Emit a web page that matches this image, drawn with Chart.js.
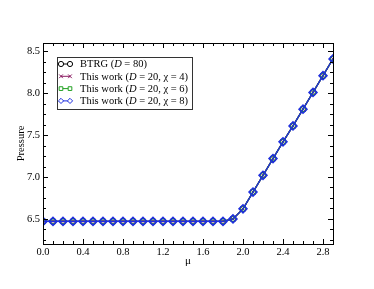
<!DOCTYPE html>
<html>
<head>
<meta charset="utf-8">
<script src="https://cdn.jsdelivr.net/npm/chart.js@4.4.1/dist/chart.umd.min.js"></script>
<style>
  html, body { margin: 0; padding: 0; background: #fff; }
  #wrap { width: 374px; height: 289px; }
</style>
</head>
<body>
<div id="wrap"><canvas id="pressureChart" width="374" height="289"></canvas></div>
<script>
// chemical potential mu
const mu = [0.0, 0.1, 0.2, 0.3, 0.4, 0.5, 0.6, 0.7, 0.8, 0.9, 1.0, 1.1, 1.2, 1.3, 1.4,
  1.5, 1.6, 1.7, 1.8, 1.9, 2.0, 2.1, 2.2, 2.3, 2.4, 2.5, 2.6, 2.7, 2.8, 2.9];

// pressure
const btrg = [6.47, 6.47, 6.47, 6.47, 6.47, 6.47, 6.47, 6.47, 6.47, 6.47, 6.47, 6.47, 6.47, 6.47, 6.47,
  6.47, 6.47, 6.47, 6.47, 6.50, 6.62, 6.82, 7.02, 7.22, 7.42, 7.61, 7.81, 8.01, 8.21, 8.41];
const chi4 = [6.47, 6.47, 6.47, 6.47, 6.47, 6.47, 6.47, 6.47, 6.47, 6.47, 6.47, 6.47, 6.47, 6.47, 6.47,
  6.47, 6.47, 6.47, 6.47, 6.50, 6.62, 6.82, 7.02, 7.22, 7.42, 7.61, 7.81, 8.01, 8.21, 8.41];
const chi6 = [6.47, 6.47, 6.47, 6.47, 6.47, 6.47, 6.47, 6.47, 6.47, 6.47, 6.47, 6.47, 6.47, 6.47, 6.47,
  6.47, 6.47, 6.47, 6.47, 6.50, 6.62, 6.82, 7.02, 7.22, 7.42, 7.61, 7.81, 8.01, 8.21, 8.41];
const chi8 = [6.47, 6.47, 6.47, 6.47, 6.47, 6.47, 6.47, 6.47, 6.47, 6.47, 6.47, 6.47, 6.47, 6.47, 6.47,
  6.47, 6.47, 6.47, 6.47, 6.50, 6.62, 6.82, 7.02, 7.22, 7.42, 7.61, 7.81, 8.01, 8.21, 8.41];

const xTicks = [0.0, 0.4, 0.8, 1.2, 1.6, 2.0, 2.4, 2.8];
const yTicks = [6.5, 7.0, 7.5, 8.0, 8.5];

// legend text pieces: [text, italic?]
const legendLabels = [
  [['BTRG (', false], ['D', true], [' = 80)', false]],
  [['This work (', false], ['D', true], [' = 20, \u03c7 = 4)', false]],
  [['This work (', false], ['D', true], [' = 20, \u03c7 = 6)', false]],
  [['This work (', false], ['D', true], [' = 20, \u03c7 = 8)', false]]
];

const serif = "'Liberation Serif', 'DejaVu Serif', serif";

function pts(ys) {
  return mu.map((m, i) => ({ x: m, y: ys[i] }));
}

const series = [
  { data: btrg, color: '#000000', style: 'circle', radius: 3, bw: 1, order: 3 },
  { data: chi4, color: '#8b1c62', style: 'crossRot', radius: 2.8, bw: 1, order: 2 },
  { data: chi6, color: '#22a022', style: 'rect', radius: 3.2, bw: 1, order: 1 },
  { data: chi8, color: '#1f2fe0', style: 'rectRot', radius: 4, bw: 1.5, order: 0 }
];

// inward ticks on all four sides, plus frame and legend
const framePlugin = {
  id: 'frame',
  afterDraw(chart) {
    const ctx = chart.ctx;
    const a = chart.chartArea;
    const xs = chart.scales.x, ys = chart.scales.y;
    ctx.save();
    ctx.strokeStyle = '#000';
    ctx.lineWidth = 1;
    ctx.strokeRect(a.left + 0.5, a.top + 0.5, a.right - a.left, a.bottom - a.top);
    ctx.beginPath();
    for (let k = 0; k <= 29; k++) {
      const v = k / 10;
      const len = (k % 4 === 0) ? 5 : 3;
      const px = Math.round(xs.getPixelForValue(v)) + 0.5;
      ctx.moveTo(px, a.bottom); ctx.lineTo(px, a.bottom - len);
      ctx.moveTo(px, a.top); ctx.lineTo(px, a.top + len);
    }
    for (let k = 0; k <= 19; k++) {
      const v = 6.25 + k * 0.125;
      if (v > 8.6) break;
      const len = (k % 4 === 2) ? 5 : 3;
      const py = Math.round(ys.getPixelForValue(v)) + 0.5;
      ctx.moveTo(a.left, py); ctx.lineTo(a.left + len, py);
      ctx.moveTo(a.right, py); ctx.lineTo(a.right - len, py);
    }
    ctx.stroke();

    // legend box
    const bx = a.left + 14, by = a.top + 14, bw = 135, bh = 52;
    ctx.fillStyle = '#fff';
    ctx.fillRect(bx, by, bw, bh);
    ctx.strokeStyle = '#333';
    ctx.strokeRect(bx + 0.5, by + 0.5, bw, bh);
    ctx.textBaseline = 'middle';
    ctx.textAlign = 'left';
    legendLabels.forEach((parts, i) => {
      const ds = chart.data.datasets[i];
      const ry = by + 7 + i * 12.3;
      const x0 = bx + 4, x1 = bx + 13;
      ctx.strokeStyle = ds.borderColor;
      ctx.lineWidth = 1;
      ctx.beginPath();
      ctx.moveTo(x0, ry); ctx.lineTo(x1, ry);
      ctx.stroke();
      [x0, x1].forEach(px => {
        ctx.fillStyle = '#fff';
        ctx.strokeStyle = ds.borderColor;
        ctx.lineWidth = 1;
        Chart.helpers.drawPoint(ctx, {
          pointStyle: ds.pointStyle, radius: 2.6, borderWidth: 1, rotation: 0
        }, px, ry);
      });
      let tx = bx + 23;
      ctx.fillStyle = '#000';
      parts.forEach(([t, it]) => {
        ctx.font = (it ? 'italic ' : '') + '10.5px ' + serif;
        ctx.fillText(t, tx, ry + 0.5);
        tx += ctx.measureText(t).width;
      });
    });
    ctx.restore();
  }
};

new Chart(document.getElementById('pressureChart').getContext('2d'), {
  type: 'line',
  data: {
    datasets: series.map(s => ({
      data: pts(s.data),
      borderColor: s.color,
      backgroundColor: 'rgba(255,255,255,0)',
      pointBorderColor: s.color,
      pointBackgroundColor: 'rgba(255,255,255,0)',
      pointStyle: s.style,
      pointRadius: s.radius,
      pointBorderWidth: s.bw,
      borderWidth: 1.2,
      order: s.order,
      tension: 0
    }))
  },
  options: {
    responsive: false,
    animation: false,
    events: [],
    layout: { padding: { left: 0, top: 43, right: 41, bottom: 0 } },
    plugins: { legend: { display: false }, tooltip: { enabled: false } },
    scales: {
      x: {
        type: 'linear',
        min: 0,
        max: 2.9,
        grid: { display: false, drawTicks: false },
        border: { display: false },
        afterBuildTicks: s => { s.ticks = xTicks.map(v => ({ value: v })); },
        afterFit: s => { s.height = 45; },
        ticks: {
          padding: 2,
          maxRotation: 0,
          color: '#000',
          font: { family: serif, size: 10.5 },
          callback: v => v.toFixed(1)
        },
        title: {
          display: true,
          text: '\u03bc',
          color: '#000',
          font: { family: serif, size: 11 },
          padding: { top: 0, bottom: 21 }
        }
      },
      y: {
        min: 6.2,
        max: 8.6,
        grid: { display: false, drawTicks: false },
        border: { display: false },
        afterBuildTicks: s => { s.ticks = yTicks.map(v => ({ value: v })); },
        afterFit: s => { s.width = 43; },
        ticks: {
          padding: 3,
          color: '#000',
          font: { family: serif, size: 10.5 },
          callback: v => v.toFixed(1)
        },
        title: {
          display: true,
          text: 'Pressure',
          color: '#000',
          font: { family: serif, size: 10.5 },
          padding: { top: 15, bottom: 0 }
        }
      }
    }
  },
  plugins: [framePlugin]
});
</script>
</body>
</html>
